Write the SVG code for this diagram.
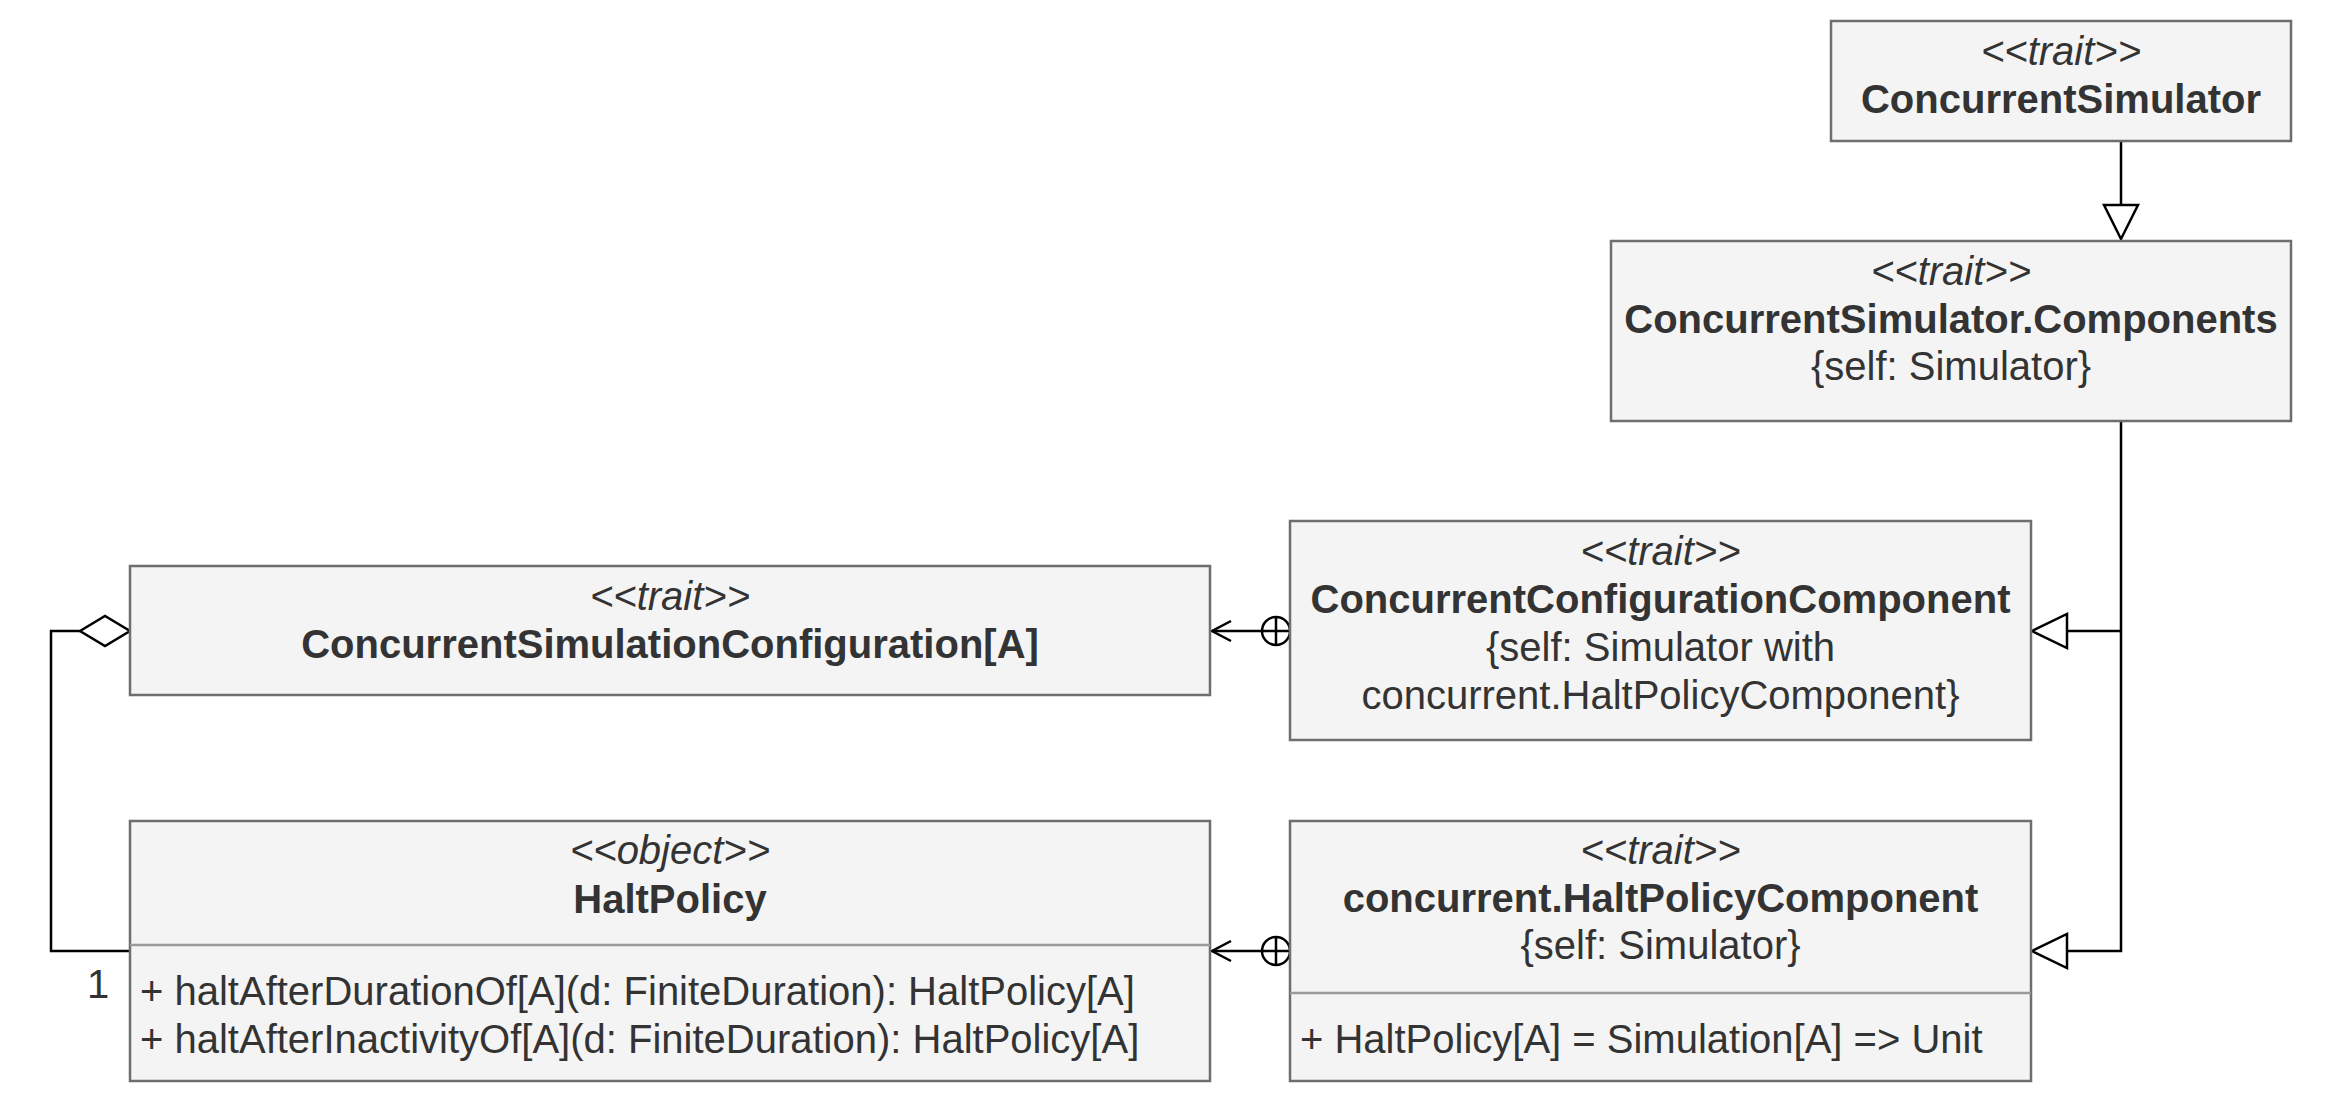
<svg xmlns="http://www.w3.org/2000/svg" width="2342" height="1100" viewBox="0 0 2342 1100">
<style>
.box{fill:#f4f4f4;stroke:#6e6e6e;stroke-width:2.5}
.sep{stroke:#9a9a9a;stroke-width:2.5}
text{font-family:"Liberation Sans",Arial,sans-serif;font-size:40px;fill:#333333}
.c{text-anchor:middle}
.st{font-style:italic}
.b{font-weight:bold}
.ln{fill:none;stroke:#000;stroke-width:2.5}
.hd{fill:#fff;stroke:#000;stroke-width:2.5}
</style>
<rect width="2342" height="1100" fill="#ffffff"/>
<g id="connectors">
  <!-- generalization ConcurrentSimulator.Components -> ConcurrentSimulator -->
  <line class="ln" x1="2121" y1="141" x2="2121" y2="205"/>
  <polygon class="hd" points="2104,205 2138,205 2121,239"/>
  <!-- generalization: components to Components -->
  <polyline class="ln" points="2121,421 2121,951 2067,951"/>
  <line class="ln" x1="2121" y1="631" x2="2067" y2="631"/>
  <polygon class="hd" points="2067,614 2067,648 2032,631"/>
  <polygon class="hd" points="2067,934 2067,968 2032,951"/>
  <!-- nesting ConcurrentConfigurationComponent -> ConcurrentSimulationConfiguration -->
  <line class="ln" x1="1212" y1="631" x2="1262" y2="631"/>
  <polyline class="ln" points="1231,621 1212,631 1231,641"/>
  <circle class="ln" cx="1276" cy="631" r="14"/>
  <line class="ln" x1="1262" y1="631" x2="1290" y2="631"/>
  <line class="ln" x1="1276" y1="617" x2="1276" y2="645"/>
  <!-- nesting concurrent.HaltPolicyComponent -> HaltPolicy -->
  <line class="ln" x1="1212" y1="951" x2="1262" y2="951"/>
  <polyline class="ln" points="1231,941 1212,951 1231,961"/>
  <circle class="ln" cx="1276" cy="951" r="14"/>
  <line class="ln" x1="1262" y1="951" x2="1290" y2="951"/>
  <line class="ln" x1="1276" y1="937" x2="1276" y2="965"/>
  <!-- aggregation HaltPolicy -> ConcurrentSimulationConfiguration -->
  <polyline class="ln" points="130,951 51,951 51,631 80,631"/>
  <polygon class="hd" points="80,631 105,616 130,631 105,646"/>
  <text x="87" y="998">1</text>
</g>
<g id="ConcurrentSimulator">
  <rect class="box" x="1831" y="21" width="460" height="120"/>
  <text class="c st" x="2061" y="65">&lt;&lt;trait&gt;&gt;</text>
  <text class="c b" x="2061" y="113">ConcurrentSimulator</text>
</g>
<g id="ConcurrentSimulatorComponents">
  <rect class="box" x="1611" y="241" width="680" height="180"/>
  <text class="c st" x="1951" y="285">&lt;&lt;trait&gt;&gt;</text>
  <text class="c b" x="1951" y="333">ConcurrentSimulator.Components</text>
  <text class="c" x="1951" y="380">{self: Simulator}</text>
</g>
<g id="ConcurrentSimulationConfiguration">
  <rect class="box" x="130" y="566" width="1080" height="129"/>
  <text class="c st" x="670" y="610">&lt;&lt;trait&gt;&gt;</text>
  <text class="c b" x="670" y="658">ConcurrentSimulationConfiguration[A]</text>
</g>
<g id="ConcurrentConfigurationComponent">
  <rect class="box" x="1290" y="521" width="741" height="219"/>
  <text class="c st" x="1660.5" y="565">&lt;&lt;trait&gt;&gt;</text>
  <text class="c b" x="1660.5" y="613">ConcurrentConfigurationComponent</text>
  <text class="c" x="1660.5" y="661">{self: Simulator with</text>
  <text class="c" x="1660.5" y="709">concurrent.HaltPolicyComponent}</text>
</g>
<g id="HaltPolicy">
  <rect class="box" x="130" y="821" width="1080" height="260"/>
  <line class="sep" x1="130" y1="945" x2="1210" y2="945"/>
  <text class="c st" x="670" y="864">&lt;&lt;object&gt;&gt;</text>
  <text class="c b" x="670" y="913">HaltPolicy</text>
  <text x="140" y="1005">+ haltAfterDurationOf[A](d: FiniteDuration): HaltPolicy[A]</text>
  <text x="140" y="1053">+ haltAfterInactivityOf[A](d: FiniteDuration): HaltPolicy[A]</text>
</g>
<g id="HaltPolicyComponent">
  <rect class="box" x="1290" y="821" width="741" height="260"/>
  <line class="sep" x1="1290" y1="993" x2="2031" y2="993"/>
  <text class="c st" x="1660.5" y="864">&lt;&lt;trait&gt;&gt;</text>
  <text class="c b" x="1660.5" y="912">concurrent.HaltPolicyComponent</text>
  <text class="c" x="1660.5" y="959">{self: Simulator}</text>
  <text x="1300" y="1053">+ HaltPolicy[A] = Simulation[A] =&gt; Unit</text>
</g>
</svg>
